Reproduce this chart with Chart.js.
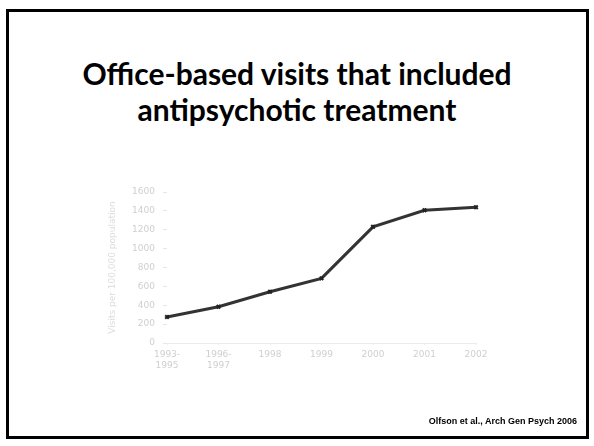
<!DOCTYPE html>
<html>
<head>
<meta charset="utf-8">
<script src="https://cdn.jsdelivr.net/npm/chart.js@4/dist/chart.umd.min.js"></script>
<style>
  html, body { margin: 0; padding: 0; background: #fff; }
  #slide { position: relative; width: 594px; height: 446px; overflow: hidden; }
  #frame { position: absolute; left: 6px; top: 9px; width: 577px; height: 424px; border: 3px solid #000; }
  #title {
    position: absolute; left: 0; top: 55px; width: 594px; text-align: center;
    font-family: Lato, 'Open Sans', sans-serif; font-weight: 700; font-size: 30px;
    line-height: 36px; color: #000;
  }
  #cite {
    position: absolute; right: 17px; top: 416px;
    font-family: 'Liberation Sans', Arial, sans-serif; font-weight: 700; font-size: 9px; color: #000;
  }
  #chart { position: absolute; left: 0; top: 0; }
</style>
</head>
<body>
<div id="slide">
  <div id="frame"></div>
  <div id="title">Office-based visits that included<br>antipsychotic treatment</div>
  <canvas id="chart" width="594" height="446"></canvas>
  <div id="cite">Olfson et al., Arch Gen Psych 2006</div>
</div>
<script>
// Survey years and antipsychotic visit rate
var years = [['1993-', '1995'], ['1996-', '1997'], '1998', '1999', '2000', '2001', '2002'];
var visitRate = [275, 384, 543, 685, 1231, 1407, 1438];
var yTicks = [0, 200, 400, 600, 800, 1000, 1200, 1400, 1600];

var faint = '#cfcfcf';

new Chart(document.getElementById('chart'), {
    type: 'line',
    data: {
        labels: years,
        datasets: [{
            data: visitRate,
            borderColor: '#333333',
            borderWidth: 3,
            pointBackgroundColor: '#222222',
            pointBorderColor: '#222222',
            pointRadius: 2.5,
            pointStyle: 'crossRot',
            pointBorderWidth: 2,
            tension: 0
        }]
    },
    options: {
        responsive: false,
        animation: false,
        layout: { padding: { top: 192, bottom: 63, left: 107, right: 118 } },
        plugins: { legend: { display: false }, tooltip: { enabled: false } },
        scales: {
            x: {
                offset: false,
                grid: { drawOnChartArea: false, drawTicks: true, tickLength: 2, color: '#eeeeee' },
                border: { display: true, color: '#ececec', width: 1 },
                ticks: {
                    color: faint, maxRotation: 0, autoSkip: false, padding: 4,
                    font: { family: 'DejaVu Sans', size: 9 }
                },
                afterFit: function(s) { s.height = 40; }
            },
            y: {
                min: 0, max: 1600,
                afterBuildTicks: function(s) { s.ticks = yTicks.map(function(v) { return { value: v }; }); },
                grid: { drawOnChartArea: false, drawTicks: true, tickLength: 4, color: '#e6e6e6' },
                border: { display: false },
                ticks: {
                    color: faint, padding: 8,
                    font: { family: 'DejaVu Sans', size: 9 },
                    callback: function(v) { return String(v); }
                },
                title: {
                    display: true, text: 'Visits per 100,000 population', color: '#dcdcdc',
                    font: { family: 'DejaVu Sans', size: 9 }, padding: 0
                },
                afterFit: function(s) { s.width = 60; }
            }
        }
    }
});
</script>
</body>
</html>
